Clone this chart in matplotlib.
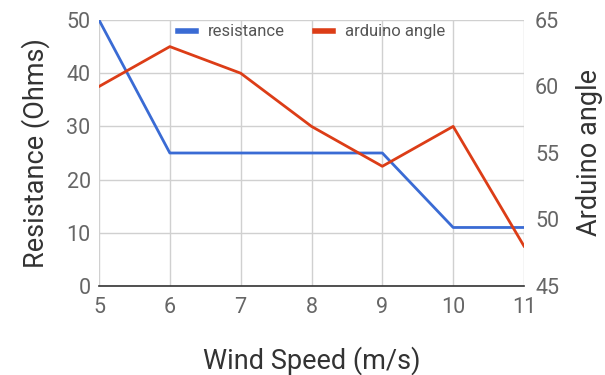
import matplotlib.pyplot as plt
from matplotlib.lines import Line2D

# data
wind_speed = [5, 6, 7, 8, 9, 10, 11]
resistance = [50, 25, 25, 25, 25, 11, 11]
arduino_angle = [60, 63, 61, 57, 54, 57, 48]

plt.rcParams['font.family'] = ['Roboto', 'DejaVu Sans']

blue = '#3a6bd4'
red = '#dc3d17'
tick_col = '#666666'
label_col = '#333333'

fig = plt.figure(figsize=(6.05, 3.75), dpi=100)
ax = fig.add_axes([99 / 605, 89 / 375, 425 / 605, 266 / 375])
ax2 = ax.twinx()

ax.plot(wind_speed, resistance, color=blue, linewidth=2)
ax2.plot(wind_speed, arduino_angle, color=red, linewidth=2)

ax.set_xlim(5, 11)
ax.set_ylim(0, 50)
ax2.set_ylim(45, 65)
ax.set_xticks(wind_speed)
ax.set_yticks([0, 10, 20, 30, 40, 50])
ax2.set_yticks([45, 50, 55, 60, 65])

ax.grid(True, color='#d0d0d0', linewidth=1)
ax.set_axisbelow(True)

for a in (ax, ax2):
    for side in ('top', 'left', 'right', 'bottom'):
        a.spines[side].set_visible(False)
    a.tick_params(length=0, labelsize=15.5, labelcolor=tick_col)
ax.spines['bottom'].set_visible(True)
ax.spines['bottom'].set_color('#333333')
ax.spines['bottom'].set_linewidth(1.2)
ax.tick_params(axis='x', pad=8)
ax.tick_params(axis='y', pad=6)
ax2.tick_params(axis='y', pad=8)

ax.set_xlabel('Wind Speed (m/s)', fontsize=19.5, color=label_col, labelpad=20)
ax.set_ylabel('Resistance (Ohms)', fontsize=19.5, color=label_col, labelpad=12)
ax2.set_ylabel('Arduino angle', fontsize=19.5, color=label_col, labelpad=12)

handles = [Line2D([0], [0], color=blue, linewidth=4),
           Line2D([0], [0], color=red, linewidth=4)]
leg = ax.legend(handles, ['resistance', 'arduino angle'], loc='upper center',
                bbox_to_anchor=(0.5, 1.04), ncol=2, frameon=False, fontsize=12,
                handlelength=1.1, handletextpad=0.7, columnspacing=1.8)
for t in leg.get_texts():
    t.set_color('#555555')

fig.savefig('out.png', dpi=100)
